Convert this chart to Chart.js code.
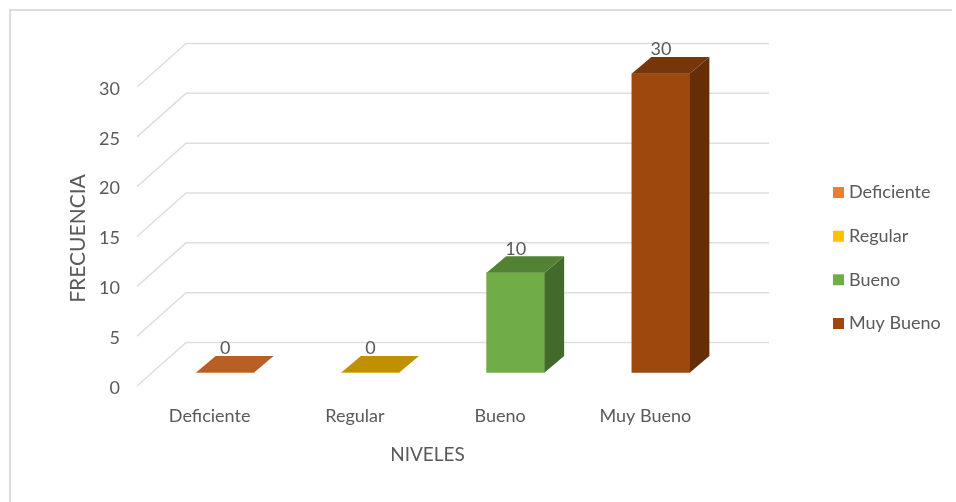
<!DOCTYPE html>
<html>
<head>
<meta charset="utf-8">
<style>
html,body{margin:0;padding:0;background:#fff;}
#wrap{position:relative;width:956px;height:502px;overflow:hidden;}
#top{position:absolute;left:9px;top:8.5px;width:943px;height:2px;background:#dcdcdc;}
#left{position:absolute;left:9px;top:8.5px;width:2px;height:494px;background:#dcdcdc;}
canvas{position:absolute;left:0;top:0;}
</style>
<script src="https://cdn.jsdelivr.net/npm/chart.js@4"></script>
</head>
<body>
<div id="wrap"><div id="top"></div><div id="left"></div><canvas id="c" width="956" height="502"></canvas></div>
<script>
const categories = ["Deficiente","Regular","Bueno","Muy Bueno"];
const frequencies = [0,0,10,30];
const frontColors = ["#ED7D31","#FFC000","#70AD47","#9E480E"];
const topColors = ["#B85F23","#BF9000","#548235","#763609"];
const sideColors = ["#9C4F1C","#A37B00","#436A2B","#652E07"];
const yMax = 30, yStep = 5;
const FONT = "Lato";
const TEXT = "#595959";
const GRID = "#dedede";

// projection of the 3D box
const wallDX = 49, wallDY = -43.5, wallRight = 769, gridDY = -2;
const barDX = 15.5, barDY = -15.5, depthDX = 19.5, depthDY = -16.5;

const grid3d = {
  id:"grid3d",
  beforeDatasetsDraw(chart){
    const {ctx,scales:{y},chartArea:a} = chart;
    ctx.save();
    ctx.strokeStyle = GRID; ctx.lineWidth = 1.5;
    y.ticks.forEach(t=>{
      const py = y.getPixelForValue(t.value)+gridDY;
      ctx.beginPath();
      ctx.moveTo(a.left,py);
      ctx.lineTo(a.left+wallDX,py+wallDY);
      ctx.lineTo(wallRight,py+wallDY);
      ctx.stroke();
    });
    ctx.restore();
  }
};
const bar3d = {
  id:"bar3d",
  beforeDatasetDraw(chart){
    chart.ctx.save();
    chart.ctx.translate(barDX,barDY);
  },
  afterDatasetDraw(chart,args){
    const ctx = chart.ctx;
    args.meta.data.forEach((el,i)=>{
      const {x,y,base,width} = el.getProps(["x","y","base","width"],true);
      const l = x-width/2, r = x+width/2;
      ctx.fillStyle = sideColors[i];
      ctx.beginPath();
      ctx.moveTo(r,y);ctx.lineTo(r+depthDX,y+depthDY);ctx.lineTo(r+depthDX,base+depthDY);ctx.lineTo(r,base);
      ctx.closePath();ctx.fill();
      ctx.fillStyle = topColors[i];
      ctx.beginPath();
      ctx.moveTo(l,y);ctx.lineTo(r,y);ctx.lineTo(r+depthDX,y+depthDY);ctx.lineTo(l+depthDX,y+depthDY);
      ctx.closePath();ctx.fill();
      ctx.fillStyle = TEXT;
      ctx.font = "18px "+FONT;
      ctx.textAlign = "center";ctx.textBaseline = "middle";
      ctx.fillText(String(frequencies[i]),x,y-24);
    });
    ctx.restore();
  }
};
const legendPlace = {
  id:"legendPlace",
  afterLayout(chart){
    const lg = chart.legend;
    const pad = lg.options.labels.padding;
    lg.left = 837-pad; lg.right = lg.left+lg.width;
    lg.top = 158; lg.bottom = lg.top+lg.height;
  }
};

new Chart(document.getElementById("c"),{
  type:"bar",
  data:{labels:categories,datasets:[{
    data:frequencies,
    backgroundColor:frontColors,
    barThickness:58,
    clip:false
  }]},
  plugins:[grid3d,bar3d,legendPlace],
  options:{
    responsive:false,
    animation:false,
    layout:{padding:{left:66,right:238,top:89,bottom:36}},
    plugins:{
      tooltip:{enabled:false},
      legend:{
        position:"chartArea",
        align:"start",
        labels:{
          boxWidth:3,boxHeight:3,padding:25.6,color:TEXT,
          font:{family:FONT,size:18},
          generateLabels:()=>categories.map((c,i)=>({text:c,fillStyle:frontColors[i],strokeStyle:frontColors[i],lineWidth:8,index:i,hidden:false,fontColor:TEXT}))
        }
      }
    },
    scales:{
      x:{
        grid:{display:false},border:{display:false},
        afterFit(s){s.height=78;},
        ticks:{color:TEXT,font:{family:FONT,size:18},padding:9,maxRotation:0},
        title:{display:true,text:"NIVELES",color:TEXT,font:{family:FONT,size:19},padding:{top:10,bottom:0}}
      },
      y:{
        min:0,max:yMax,
        grid:{display:false},border:{display:false},
        afterFit(s){s.width=71;},
        ticks:{stepSize:yStep,color:TEXT,font:{family:FONT,size:18},padding:9},
        title:{display:true,text:"FRECUENCIA",color:TEXT,font:{family:FONT,size:21},padding:{top:0,bottom:0}}
      }
    }
  }
});
</script>
</body>
</html>
